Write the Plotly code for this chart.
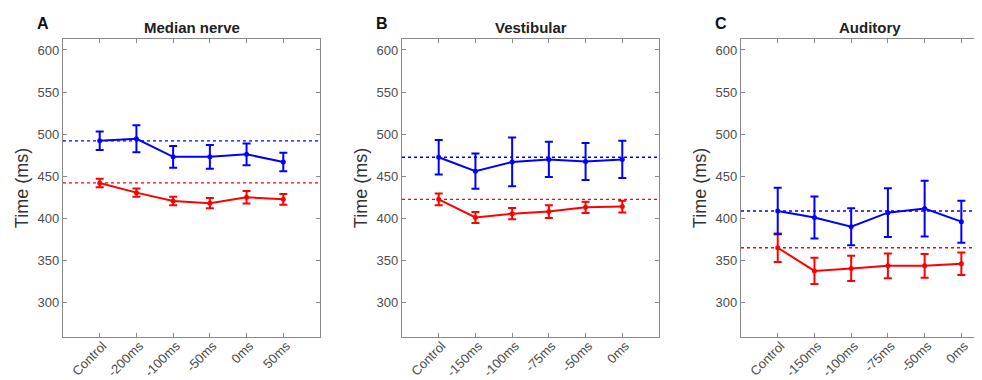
import plotly.graph_objects as go

# ---------------- data ----------------
cats_A = ["Control", "-200ms", "-100ms", "-50ms", "0ms", "50ms"]
cats_BC = ["Control", "-150ms", "-100ms", "-75ms", "-50ms", "0ms"]

A_blue = [492, 494.5, 473, 473, 476, 467]
A_blue_err = [11, 16, 13, 14, 13, 11]
A_red = [442, 430.5, 420.5, 418, 425, 422.5]
A_red_err = [5, 5, 5, 6, 7.5, 6.5]

B_blue = [472.5, 456, 467, 470, 467.5, 470]
B_blue_err = [20.5, 21, 29, 21, 22, 22]
B_red = [422.5, 401, 405.5, 408, 413, 414]
B_red_err = [7, 6.5, 6.7, 7.5, 6.8, 7]

C_blue = [408.7, 401, 390, 406.7, 411.5, 396]
C_blue_err = [27.5, 25, 22, 29, 33, 25]
C_red = [365, 337.5, 340.5, 343.5, 343.5, 346]
C_red_err = [17, 15.5, 15, 14.6, 14, 13.3]

titles = ["Median nerve", "Vestibular", "Auditory"]
letters = ["A", "B", "C"]
yticks = [300, 350, 400, 450, 500, 550, 600]
y_label = "Time (ms)"

BLUE = "#0000FF"
RED = "#FF0000"
FONT = "Liberation Sans, Arial, sans-serif"
AXC = "#8a8a8a"
TXT = "#4d4d4d"

W, H = 982, 380
doms = [(55 / W, 312 / W), (394 / W, 651 / W), (733 / W, 1.0)]
xranges = [[-1, 6], [-1, 6], [-1, 5.78]]
ydom = [(380 - 329) / H, (380 - 31) / H]

panels = [
    (cats_A, A_blue, A_blue_err, A_red, A_red_err),
    (cats_BC, B_blue, B_blue_err, B_red, B_red_err),
    (cats_BC, C_blue, C_blue_err, C_red, C_red_err),
]

fig = go.Figure()
shapes = []
annotations = []
for i, (cats, yb, eb, yr, er) in enumerate(panels):
    xa = "x" if i == 0 else f"x{i+1}"
    ya = "y" if i == 0 else f"y{i+1}"
    for yv, ev, col in [(yr, er, RED), (yb, eb, BLUE)]:
        fig.add_trace(go.Scatter(
            x=cats, y=yv, xaxis=xa, yaxis=ya, mode="lines+markers",
            line=dict(color=col, width=2), marker=dict(color=col, size=5),
            error_y=dict(type="data", array=ev, visible=True, color=col,
                         thickness=2, width=4),
            showlegend=False, hoverinfo="skip"))
        # dotted baseline at control value
        shapes.append(dict(type="line", xref=f"{xa} domain", yref=ya,
                           x0=0, x1=1, y0=yv[0], y1=yv[0],
                           line=dict(color=col, width=1.3, dash="dot"),
                           layer="below"))
    xkey = "xaxis" if i == 0 else f"xaxis{i+1}"
    ykey = "yaxis" if i == 0 else f"yaxis{i+1}"
    fig.update_layout(**{
        xkey: dict(domain=doms[i], anchor=ya, type="category",
                   categoryorder="array", categoryarray=cats,
                   range=xranges[i], showgrid=False, zeroline=False,
                   showline=True, linecolor=AXC, linewidth=1.3,
                   mirror="ticks", ticks="inside", ticklen=4,
                   tickcolor=AXC, tickangle=-45, ticklabelstandoff=-5,
                   ticklabelshift=3,
                   tickfont=dict(family=FONT, size=13, color=TXT)),
        ykey: dict(domain=ydom, anchor=xa, range=[259, 613],
                   tickvals=yticks, showgrid=False, zeroline=False,
                   showline=True, linecolor=AXC, linewidth=1.3,
                   mirror=("ticks" if i < 2 else False),
                   ticks="inside", ticklen=4, tickcolor=AXC,
                   tickfont=dict(family=FONT, size=13, color=TXT),
                   title=dict(text=y_label, standoff=4,
                              font=dict(family=FONT, size=18, color="#333333"))),
    })
    annotations.append(dict(text=f"<b>{titles[i]}</b>", xref="paper", yref="paper",
                            x=(doms[i][0] + (doms[i][0] + 257 / W)) / 2, y=1 - 20 / H,
                            xanchor="center", yanchor="middle", showarrow=False,
                            font=dict(family=FONT, size=15, color="#222222")))
    annotations.append(dict(text=f"<b>{letters[i]}</b>", xref="paper", yref="paper",
                            x=doms[i][0] - 20 / W, y=1 - 15 / H,
                            xanchor="center", yanchor="middle", showarrow=False,
                            font=dict(family=FONT, size=16, color="#111111")))

fig.update_layout(width=W, height=H, margin=dict(l=0, r=0, t=0, b=0),
                  paper_bgcolor="white", plot_bgcolor="white",
                  shapes=shapes, annotations=annotations)
fig.write_html("out.html")
